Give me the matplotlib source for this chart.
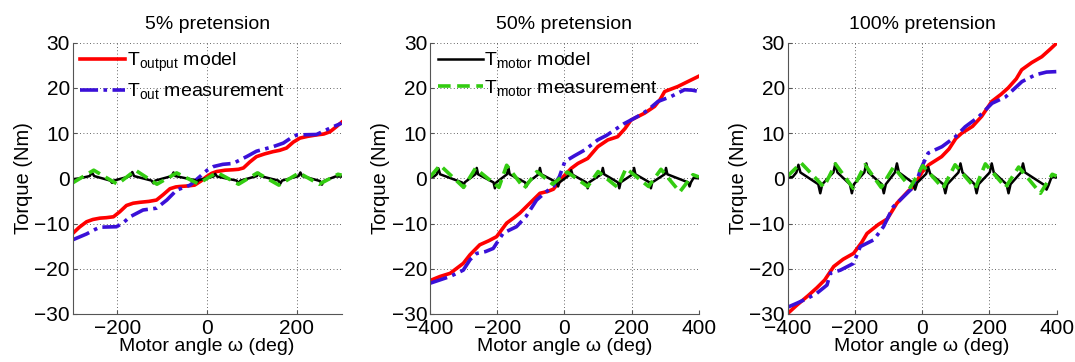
import matplotlib
matplotlib.use("Agg")
import matplotlib.pyplot as plt

plt.rcParams['font.family'] = ['Liberation Sans', 'DejaVu Sans']
plt.rcParams['mathtext.fontset'] = 'custom'
plt.rcParams['mathtext.rm'] = 'Liberation Sans'
plt.rcParams['mathtext.it'] = 'Liberation Sans'

titles = ['5% pretension', '50% pretension', '100% pretension']
xlims = [(-300, 300), (-400, 400), (-400, 400)]
xticks = [[-200, 0, 200], [-400, -200, 0, 200, 400], [-400, -200, 0, 200, 400]]
yticks = [-30, -20, -10, 0, 10, 20, 30]

# 5% pretension
red1_x = [-300, -285, -269, -255, -239, -225, -209, -195, -180, -165, -150, -130, -113, -98, -83,
          -70, -61, -45, -28, -14, -1, 10, 21, 40, 58, 70, 81, 95, 110, 128, 147, 162, 177, 192,
          207, 225, 244, 260, 274, 288, 300]
red1_y = [-12.2, -10.8, -9.6, -9.1, -8.8, -8.7, -8.5, -7.4, -6.0, -5.5, -5.3, -5.1, -4.8, -3.6, -2.3,
          -1.9, -1.8, -1.7, -1.5, -0.6, 0.4, 1.1, 1.5, 1.8, 1.9, 2.0, 2.3, 3.6, 4.8, 5.4, 5.9, 6.2,
          6.7, 8.0, 8.9, 9.3, 9.6, 9.8, 10.3, 11.4, 12.4]
blue1_x = [-300, -269, -250, -239, -202, -187, -172, -143, -113, -90, -68, -38, -16, 0, 14, 35, 58,
           88, 110, 147, 170, 185, 200, 244, 274, 300]
blue1_y = [-13.6, -12.3, -11.3, -10.8, -10.7, -9.8, -8.5, -7.0, -6.6, -4.8, -2.6, -1.5, 0.4, 1.8,
           2.6, 3.1, 3.3, 4.8, 6.0, 7.0, 7.8, 8.8, 9.6, 9.7, 11.1, 12.2]
black1_x = [-300, -285, -262, -257, -252, -216, -212, -208, -171, -167, -163, -124, -120, -116,
            -79, -75, -71, -27, -23, -19, 14, 18, 22, 66, 70, 74, 111, 115, 119, 159, 163, 167,
            204, 208, 212, 252, 256, 260, 286, 300]
black1_y = [-0.2, 0.0, 0.5, 1.3, 0.5, -0.5, -1.0, -0.5, 0.5, 1.4, 0.5, -0.5, -1.1, -0.5,
            0.5, 1.3, 0.5, -0.4, -0.9, -0.4, 0.4, 1.0, 0.4, -0.5, -1.1, -0.5, 0.5, 1.2, 0.5,
            -0.5, -1.2, -0.5, 0.5, 1.3, 0.5, -0.6, -1.4, -0.6, 0.4, 0.4]
green1_x = [-300, -253, -200, -160, -112, -68, -20, 22, 70, 112, 160, 205, 250, 292, 300]
green1_y = [-1.0, 1.8, -1.3, 1.8, -1.3, 1.2, -1.2, 1.3, -1.3, 1.2, -1.5, 1.2, -1.3, 0.9, 0.7]

# 50% pretension
red2_x = [-400, -370, -340, -301, -281, -252, -225, -202, -172, -150, -133, -103, -73, -50, -33,
          -3, 20, 40, 69, 99, 129, 158, 180, 198, 238, 268, 285, 298, 337, 367, 400]
red2_y = [-22.6, -21.7, -21.0, -18.8, -16.9, -14.7, -13.8, -12.9, -9.9, -8.7, -7.7, -5.5, -3.3,
          -2.9, -2.4, 0.4, 2.2, 3.3, 4.4, 7.0, 8.5, 9.2, 11.0, 12.9, 14.4, 15.9, 17.5, 19.2, 20.3,
          21.4, 22.6]
blue2_x = [-400, -340, -301, -281, -261, -235, -212, -182, -143, -115, -83, -55, -33, -15, 1, 30,
           61, 99, 125, 149, 175, 198, 225, 248, 278, 317, 357, 380, 400]
blue2_y = [-23.2, -21.7, -20.3, -18.0, -16.6, -16.2, -15.5, -12.1, -10.7, -8.5, -4.8, -3.0, -1.8,
           0.4, 3.7, 5.0, 6.3, 8.5, 9.5, 10.7, 12.0, 12.9, 14.0, 15.1, 17.0, 18.1, 19.6, 19.5, 19.2]
black2_x = [-400, -388, -380, -375, -370, -305, -301, -297, -265, -261, -257, -211, -207, -203,
            -171, -167, -163, -117, -113, -109, -77, -73, -69, -23, -19, -15, 16, 20, 24, 65, 69,
            73, 110, 114, 118, 159, 163, 167, 203, 207, 211, 253, 257, 261, 298, 302, 306, 368,
            372, 376, 384, 400]
black2_y = [0.3, 0.4, 0.9, 2.2, 0.9, -0.9, -2.0, -0.9, 0.9, 2.3, 0.9, -0.9, -2.2, -0.9,
            0.9, 2.5, 0.9, -0.9, -1.8, -0.9, 0.9, 2.3, 0.9, -0.9, -1.8, -0.9, 0.8, 1.8, 0.8, -0.9,
            -2.2, -0.9, 0.9, 2.3, 0.9, -0.9, -2.2, -0.9, 0.9, 2.3, 0.9, -0.9, -2.2, -0.9, 0.9,
            2.3, 0.9, -0.9, -1.8, -0.9, 0.1, 0.0]
green2_x = [-400, -370, -300, -265, -195, -172, -120, -82, -35, 8, 69, 100, 158, 183, 250, 287,
            343, 382, 400]
green2_y = [0.3, 2.9, -2.0, 2.2, -2.0, 2.9, -2.2, 1.5, -1.3, 1.4, -1.8, 1.5, -2.0, 2.2, -1.8, 2.0,
            -3.0, 0.8, 0.3]

# 100% pretension
red3_x = [-400, -372, -340, -313, -290, -263, -235, -204, -180, -164, -130, -104, -75, -41, -25,
          0, 20, 58, 80, 100, 118, 150, 177, 207, 235, 256, 280, 296, 326, 356, 380, 400]
red3_y = [-29.9, -28.0, -26.0, -24.2, -22.5, -19.5, -17.9, -16.6, -14.2, -12.2, -10.2, -9.0, -5.5,
          -2.8, -1.8, 1.4, 3.0, 4.8, 6.5, 8.8, 10.0, 11.5, 13.7, 17.0, 18.6, 20.0, 22.0, 24.0, 25.6,
          26.9, 28.5, 29.9]
blue3_x = [-400, -372, -340, -313, -283, -273, -243, -204, -184, -144, -115, -86, -45, -20, -5, 18,
           59, 99, 128, 168, 208, 248, 297, 337, 370, 400]
blue3_y = [-28.5, -27.6, -26.5, -25.4, -23.6, -21.0, -20.3, -18.8, -15.1, -13.6, -10.7, -6.3,
           -3.3, -1.5, 1.9, 5.6, 7.0, 9.2, 11.4, 13.6, 16.6, 18.0, 21.4, 22.9, 23.5, 23.6]
black3_x = [-400, -385, -374, -368, -362, -309, -303, -297, -264, -258, -252, -215, -209, -203,
            -172, -166, -160, -120, -114, -108, -81, -75, -69, -27, -21, -15, 12, 18, 24, 63, 69,
            75, 108, 114, 120, 156, 162, 168, 201, 207, 213, 251, 257, 263, 294, 300, 306, 364,
            370, 376, 385, 400]
black3_y = [0.2, 0.3, 1.3, 3.0, 1.3, -1.3, -3.3, -1.3, 1.3, 3.3, 1.3, -1.3, -3.3, -1.3, 1.3,
            3.3, 1.3, -1.3, -3.3, -1.3, 1.3, 3.3, 1.3, -1.0, -2.5, -1.0, 1.0, 2.5, 1.0, -1.3,
            -3.3, -1.3, 1.3, 3.3, 1.3, -1.3, -3.3, -1.3, 1.3, 3.3, 1.3, -1.3, -3.3, -1.3, 1.3,
            3.3, 1.3, -1.5, -2.5, -1.5, 0.3, 0.2]
green3_x = [-400, -360, -292, -258, -205, -170, -122, -85, -35, 2, 62, 98, 158, 188, 248, 287,
            352, 387, 400]
green3_y = [0.5, 3.4, -1.9, 3.2, -2.2, 3.0, -2.0, 2.5, -2.0, 2.8, -2.2, 3.0, -2.2, 3.2, -2.0,
            2.5, -3.3, 0.9, 0.5]

panels = [
    (red1_x, red1_y, blue1_x, blue1_y, black1_x, black1_y, green1_x, green1_y),
    (red2_x, red2_y, blue2_x, blue2_y, black2_x, black2_y, green2_x, green2_y),
    (red3_x, red3_y, blue3_x, blue3_y, black3_x, black3_y, green3_x, green3_y),
]

red = '#ff0000'
blue = '#3a10d8'
green = '#33cc11'

fig = plt.figure(figsize=(10.75, 3.62), dpi=100)
lefts = [0.0676, 0.400, 0.7327]

for i, (rx, ry, bx, by, kx, ky, gx, gy) in enumerate(panels):
    ax = fig.add_axes([lefts[i], 0.1326, 0.2502, 0.7495])
    l_red, = ax.plot(rx, ry, color=red, lw=2.6, solid_joinstyle='round')
    l_blue, = ax.plot(bx, by, color=blue, lw=2.6, dashes=(5, 1.5, 1, 1.5))
    l_black, = ax.plot(kx, ky, color='black', lw=1.8)
    l_green, = ax.plot(gx, gy, color=green, lw=2.6, dashes=(3.5, 1.8))

    ax.set_xlim(*xlims[i])
    ax.set_ylim(-30, 30)
    ax.set_xticks(xticks[i])
    ax.set_yticks(yticks)
    ax.grid(True, color='#333333', linestyle=(0, (1, 3)), linewidth=0.6)
    ax.spines['top'].set_visible(False)
    ax.spines['right'].set_visible(False)
    ax.spines['left'].set_color('#555555')
    ax.spines['bottom'].set_color('#555555')
    ax.tick_params(direction='in', length=3, labelsize=15, color='#555555')
    ax.tick_params(axis='y', pad=2)
    ax.tick_params(axis='x', pad=3.5)
    ax.set_title(titles[i], fontsize=14, pad=10)
    ax.set_xlabel('Motor angle \u03c9 (deg)', fontsize=14, labelpad=0)
    ax.set_ylabel('Torque (Nm)', fontsize=14.5, labelpad=1)

    if i == 0:
        ax.legend([l_red, l_blue],
                  [r'T$_{\mathrm{output}}$ model', r'T$_{\mathrm{out}}$ measurement'],
                  loc='upper left', frameon=False, fontsize=14, handlelength=2.3,
                  handletextpad=0.1, labelspacing=0.4, borderaxespad=0.1,
                  borderpad=0.3)
    elif i == 1:
        ax.legend([l_black, l_green],
                  [r'T$_{\mathrm{motor}}$ model', r'T$_{\mathrm{motor}}$ measurement'],
                  loc='upper left', frameon=False, fontsize=14, handlelength=2.3,
                  handletextpad=0.1, labelspacing=0.4, borderaxespad=0.1,
                  borderpad=0.3)

fig.savefig('out.png', dpi=100)
